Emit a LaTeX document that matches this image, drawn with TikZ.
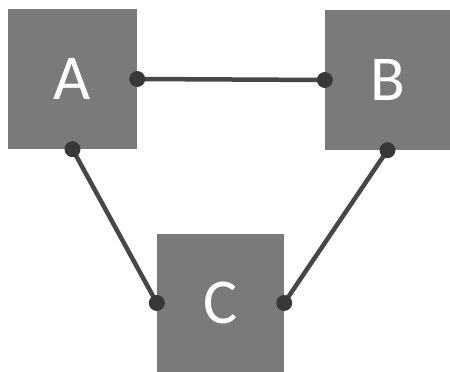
\documentclass[tikz,border=0pt]{standalone}
\usepackage{fontspec}
\setmainfont{Carlito}
\begin{document}
\begin{tikzpicture}[x=1pt,y=1pt,
  box/.style={draw=none,fill=black!52,minimum width=129pt,minimum height=140pt,inner sep=0pt,text=white,font=\fontsize{64}{64}\selectfont},
  link/.style={line width=4.5pt,draw=black!72},
  joint/.style={circle,fill=black!78,minimum size=16pt,inner sep=0pt}]
\useasboundingbox (0,0) rectangle (450,372);
\node[box] (A) at (72.5,293) {A};
\node[box,minimum width=125pt] (B) at (387.5,292) {B};
\node[box,minimum width=127pt,minimum height=138pt] (C) at (220.5,69) {C};
\draw[link] (A.east) -- (B.west);
\draw[link] (A.south) -- (C.west);
\draw[link] (B.south) -- (C.east);
\foreach \p/\n in {A.east/j1,B.west/j2,A.south/j3,C.west/j4,B.south/j5,C.east/j6}
  \node[joint] (\n) at (\p) {};
\end{tikzpicture}
\end{document}
